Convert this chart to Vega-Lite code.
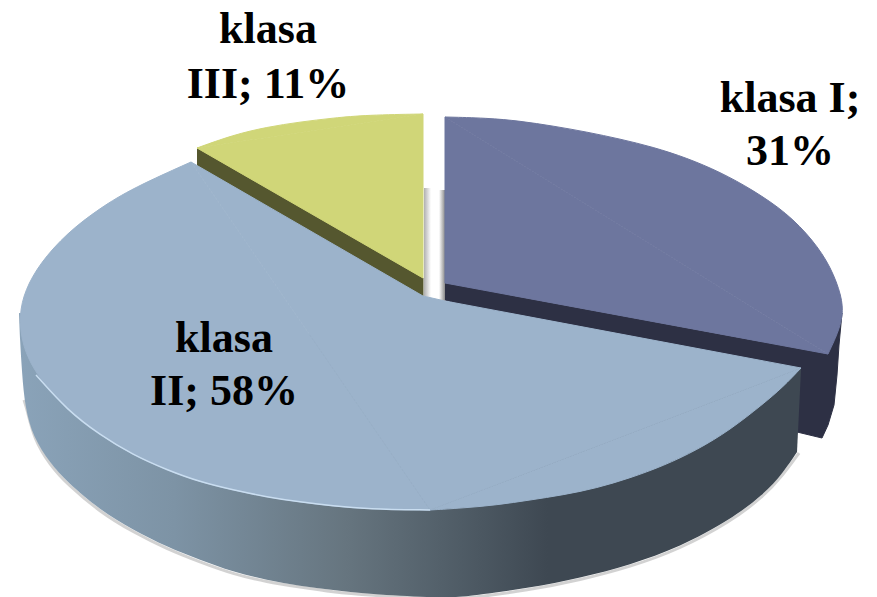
{"$schema":"https://vega.github.io/schema/vega-lite/v6.json","width":877,"height":597,"padding":0,"autosize":{"type":"none"},"background":"white","config":{"view":{"stroke":null}},
"datasets":{
"outline":[
{"p":"shadowA","i":0,"x":424,"y":188},{"p":"shadowA","i":1,"x":431,"y":188},{"p":"shadowA","i":2,"x":431,"y":298},{"p":"shadowA","i":3,"x":424,"y":296},
{"p":"shadowB","i":0,"x":439,"y":190},{"p":"shadowB","i":1,"x":445,"y":190},{"p":"shadowB","i":2,"x":445,"y":301},{"p":"shadowB","i":3,"x":439,"y":300},
{"p":"edge","i":0,"x":24,"y":400},{"p":"edge","i":2,"x":27,"y":409},{"p":"edge","i":3,"x":34,"y":439},{"p":"edge","i":4,"x":50,"y":465},{"p":"edge","i":5,"x":67,"y":484},{"p":"edge","i":6,"x":100,"y":512},{"p":"edge","i":7,"x":133,"y":532},{"p":"edge","i":8,"x":167,"y":549},{"p":"edge","i":9,"x":200,"y":562},{"p":"edge","i":10,"x":233,"y":574},{"p":"edge","i":11,"x":267,"y":582},{"p":"edge","i":12,"x":300,"y":587},{"p":"edge","i":13,"x":333,"y":592},{"p":"edge","i":14,"x":367,"y":595},{"p":"edge","i":15,"x":440,"y":599},{"p":"edge","i":16,"x":463,"y":599},{"p":"edge","i":17,"x":530,"y":590},{"p":"edge","i":18,"x":580,"y":580},{"p":"edge","i":19,"x":630,"y":567},{"p":"edge","i":20,"x":680,"y":549},{"p":"edge","i":21,"x":730,"y":522},{"p":"edge","i":22,"x":763,"y":497},{"p":"edge","i":23,"x":783,"y":475},{"p":"edge","i":24,"x":799,"y":453},
{"p":"Iside","i":0,"x":445,"y":283},{"p":"Iside","i":1,"x":828,"y":354},{"p":"Iside","i":2,"x":842,"y":313},{"p":"Iside","i":3,"x":839,"y":345},{"p":"Iside","i":4,"x":837,"y":375},{"p":"Iside","i":5,"x":834,"y":405},{"p":"Iside","i":6,"x":828,"y":425},{"p":"Iside","i":7,"x":822,"y":438},{"p":"Iside","i":8,"x":797,"y":432},{"p":"Iside","i":9,"x":797,"y":400},{"p":"Iside","i":10,"x":445,"y":300},
{"p":"Iarc","i":0,"x":445,"y":117},{"p":"Iarc","i":1,"x":487,"y":118},{"p":"Iarc","i":2,"x":520,"y":121},{"p":"Iarc","i":3,"x":553,"y":126},{"p":"Iarc","i":4,"x":587,"y":132},{"p":"Iarc","i":5,"x":620,"y":139},{"p":"Iarc","i":6,"x":653,"y":147},{"p":"Iarc","i":7,"x":687,"y":158},{"p":"Iarc","i":8,"x":720,"y":172},{"p":"Iarc","i":9,"x":753,"y":190},{"p":"Iarc","i":10,"x":787,"y":213},{"p":"Iarc","i":11,"x":813,"y":240},{"p":"Iarc","i":12,"x":831,"y":267},{"p":"Iarc","i":13,"x":842,"y":297},{"p":"Iarc","i":14,"x":843,"y":315},{"p":"Iarc","i":15,"x":838,"y":333},{"p":"Iarc","i":16,"x":828,"y":354},
{"p":"Icore","i":0,"x":445,"y":117},{"p":"Icore","i":1,"x":828,"y":354},{"p":"Icore","i":2,"x":445,"y":283},{"p":"Icore","i":3,"x":445,"y":117},
{"p":"IIIside","i":0,"x":197,"y":148},{"p":"IIIside","i":1,"x":423,"y":278},{"p":"IIIside","i":2,"x":423,"y":297},{"p":"IIIside","i":3,"x":197,"y":166},
{"p":"IIIarc","i":0,"x":197,"y":148},{"p":"IIIarc","i":1,"x":233,"y":135},{"p":"IIIarc","i":2,"x":267,"y":127},{"p":"IIIarc","i":3,"x":300,"y":122},{"p":"IIIarc","i":4,"x":333,"y":118},{"p":"IIIarc","i":5,"x":367,"y":115},{"p":"IIIarc","i":6,"x":423,"y":114},
{"p":"IIIcore","i":0,"x":197,"y":148},{"p":"IIIcore","i":1,"x":423,"y":114},{"p":"IIIcore","i":2,"x":423,"y":278},{"p":"IIIcore","i":3,"x":197,"y":148},
{"p":"IIsideArc","i":0,"x":19,"y":313},{"p":"IIsideArc","i":1,"x":20,"y":340},{"p":"IIsideArc","i":2,"x":22,"y":373},{"p":"IIsideArc","i":3,"x":25,"y":407},{"p":"IIsideArc","i":4,"x":33,"y":437},{"p":"IIsideArc","i":5,"x":50,"y":463},{"p":"IIsideArc","i":6,"x":67,"y":482},{"p":"IIsideArc","i":7,"x":100,"y":510},{"p":"IIsideArc","i":8,"x":133,"y":530},{"p":"IIsideArc","i":9,"x":167,"y":547},{"p":"IIsideArc","i":10,"x":200,"y":560},{"p":"IIsideArc","i":11,"x":233,"y":572},{"p":"IIsideArc","i":12,"x":267,"y":580},{"p":"IIsideArc","i":13,"x":300,"y":586},{"p":"IIsideArc","i":14,"x":333,"y":590},{"p":"IIsideArc","i":15,"x":367,"y":594},{"p":"IIsideArc","i":16,"x":440,"y":598},{"p":"IIsideArc","i":17,"x":463,"y":597},{"p":"IIsideArc","i":18,"x":530,"y":588},{"p":"IIsideArc","i":19,"x":580,"y":578},{"p":"IIsideArc","i":20,"x":630,"y":565},{"p":"IIsideArc","i":21,"x":680,"y":547},{"p":"IIsideArc","i":22,"x":730,"y":520},{"p":"IIsideArc","i":23,"x":763,"y":495},{"p":"IIsideArc","i":24,"x":783,"y":473},{"p":"IIsideArc","i":25,"x":797,"y":452},
{"p":"IIsideTri","i":0,"x":19,"y":313},{"p":"IIsideTri","i":1,"x":801,"y":369},{"p":"IIsideTri","i":2,"x":797,"y":452},{"p":"IIsideTri","i":3,"x":600,"y":480},
{"p":"IIarcA","i":0,"x":191,"y":162},{"p":"IIarcA","i":1,"x":133,"y":188},{"p":"IIarcA","i":2,"x":100,"y":208},{"p":"IIarcA","i":3,"x":67,"y":233},{"p":"IIarcA","i":4,"x":40,"y":263},{"p":"IIarcA","i":5,"x":25,"y":290},{"p":"IIarcA","i":6,"x":19,"y":315},{"p":"IIarcA","i":7,"x":22,"y":345},{"p":"IIarcA","i":8,"x":36,"y":375},{"p":"IIarcA","i":9,"x":67,"y":410},{"p":"IIarcA","i":10,"x":100,"y":435},{"p":"IIarcA","i":11,"x":133,"y":455},{"p":"IIarcA","i":12,"x":167,"y":470},{"p":"IIarcA","i":13,"x":200,"y":482},{"p":"IIarcA","i":14,"x":233,"y":490},{"p":"IIarcA","i":15,"x":267,"y":497},{"p":"IIarcA","i":16,"x":300,"y":502},{"p":"IIarcA","i":17,"x":333,"y":506},{"p":"IIarcA","i":18,"x":367,"y":509},{"p":"IIarcA","i":19,"x":430,"y":510},
{"p":"IIarcB","i":0,"x":430,"y":510},{"p":"IIarcB","i":1,"x":463,"y":508},{"p":"IIarcB","i":2,"x":497,"y":505},{"p":"IIarcB","i":3,"x":530,"y":500},{"p":"IIarcB","i":4,"x":563,"y":495},{"p":"IIarcB","i":5,"x":597,"y":488},{"p":"IIarcB","i":6,"x":630,"y":478},{"p":"IIarcB","i":7,"x":663,"y":466},{"p":"IIarcB","i":8,"x":697,"y":450},{"p":"IIarcB","i":9,"x":730,"y":430},{"p":"IIarcB","i":10,"x":763,"y":404},{"p":"IIarcB","i":11,"x":783,"y":387},{"p":"IIarcB","i":12,"x":801,"y":368},
{"p":"IIcore","i":0,"x":191,"y":162},{"p":"IIcore","i":1,"x":423,"y":296},{"p":"IIcore","i":2,"x":445,"y":301},{"p":"IIcore","i":3,"x":801,"y":368},{"p":"IIcore","i":4,"x":430,"y":510},{"p":"IIcore","i":5,"x":191,"y":162},
{"p":"rim","i":0,"x":36,"y":375},{"p":"rim","i":1,"x":67,"y":410},{"p":"rim","i":2,"x":100,"y":435},{"p":"rim","i":3,"x":133,"y":455},{"p":"rim","i":4,"x":167,"y":470},{"p":"rim","i":5,"x":200,"y":482},{"p":"rim","i":6,"x":233,"y":490},{"p":"rim","i":7,"x":267,"y":497},{"p":"rim","i":8,"x":300,"y":502},{"p":"rim","i":9,"x":333,"y":506},{"p":"rim","i":10,"x":367,"y":509},{"p":"rim","i":11,"x":430,"y":510}
],
"labels":[
{"t":"klasa","x":268,"y":43,"share":11},{"t":"III; 11%","x":268,"y":98,"share":11},
{"t":"klasa I;","x":790,"y":112,"share":31},{"t":"31%","x":790,"y":165,"share":31},
{"t":"klasa","x":224,"y":352,"share":58},{"t":"II; 58%","x":224,"y":405,"share":58}
]},
"encoding":{"x":{"field":"x","type":"quantitative","scale":{"domain":[0,877],"nice":false,"zero":false},"axis":null},"y":{"field":"y","type":"quantitative","scale":{"domain":[597,0],"nice":false,"zero":false},"axis":null}},
"layer":[
{"data":{"name":"outline"},"transform":[{"filter":"datum.p==='shadowA'"}],"mark":{"type":"line","strokeWidth":0,"fill":{"gradient":"linear","x1":0,"y1":0,"x2":1,"y2":0,"stops":[{"offset":0,"color":"#b0b0b0"},{"offset":1,"color":"#ffffff"}]}},"encoding":{"order":{"field":"i","type":"quantitative"}}},
{"data":{"name":"outline"},"transform":[{"filter":"datum.p==='shadowB'"}],"mark":{"type":"line","strokeWidth":0,"fill":{"gradient":"linear","x1":0,"y1":0,"x2":1,"y2":0,"stops":[{"offset":0,"color":"#ffffff"},{"offset":1,"color":"#8a8a8a"}]}},"encoding":{"order":{"field":"i","type":"quantitative"}}},
{"data":{"name":"outline"},"transform":[{"filter":"datum.p==='edge'"}],"mark":{"type":"line","stroke":"#b4b4b4","strokeWidth":3,"opacity":0.6,"interpolate":"basis"},"encoding":{"order":{"field":"i","type":"quantitative"}}},
{"data":{"name":"outline"},"transform":[{"filter":"datum.p==='Iside'"}],"mark":{"type":"line","stroke":"#2d3044","strokeWidth":1,"fill":"#2d3044"},"encoding":{"order":{"field":"i","type":"quantitative"}}},
{"data":{"name":"outline"},"transform":[{"filter":"datum.p==='Iarc'"}],"mark":{"type":"line","stroke":"#6d769e","strokeWidth":1,"fill":"#6d769e","interpolate":"basis"},"encoding":{"order":{"field":"i","type":"quantitative"}}},
{"data":{"name":"outline"},"transform":[{"filter":"datum.p==='Icore'"}],"mark":{"type":"line","stroke":"#6d769e","strokeWidth":1,"fill":"#6d769e"},"encoding":{"order":{"field":"i","type":"quantitative"}}},
{"data":{"name":"outline"},"transform":[{"filter":"datum.p==='IIIside'"}],"mark":{"type":"line","stroke":"#55572f","strokeWidth":1,"fill":"#55572f"},"encoding":{"order":{"field":"i","type":"quantitative"}}},
{"data":{"name":"outline"},"transform":[{"filter":"datum.p==='IIIarc'"}],"mark":{"type":"line","stroke":"#d0d678","strokeWidth":1,"fill":"#d0d678","interpolate":"basis"},"encoding":{"order":{"field":"i","type":"quantitative"}}},
{"data":{"name":"outline"},"transform":[{"filter":"datum.p==='IIIcore'"}],"mark":{"type":"line","stroke":"#d0d678","strokeWidth":1,"fill":"#d0d678"},"encoding":{"order":{"field":"i","type":"quantitative"}}},
{"data":{"name":"outline"},"transform":[{"filter":"datum.p==='IIsideArc'"}],"mark":{"type":"line","strokeWidth":0,"interpolate":"basis","fill":{"gradient":"linear","x1":0,"y1":0,"x2":1,"y2":0,"stops":[{"offset":0,"color":"#8aa3b9"},{"offset":0.2,"color":"#7d93a5"},{"offset":0.42,"color":"#66757f"},{"offset":0.55,"color":"#525f69"},{"offset":0.68,"color":"#3e4852"},{"offset":1,"color":"#3e4852"}]}},"encoding":{"order":{"field":"i","type":"quantitative"}}},
{"data":{"name":"outline"},"transform":[{"filter":"datum.p==='IIsideTri'"}],"mark":{"type":"line","strokeWidth":0,"fill":{"gradient":"linear","x1":0,"y1":0,"x2":1,"y2":0,"stops":[{"offset":0,"color":"#8aa3b9"},{"offset":0.2,"color":"#7d93a5"},{"offset":0.42,"color":"#66757f"},{"offset":0.55,"color":"#525f69"},{"offset":0.68,"color":"#3e4852"},{"offset":1,"color":"#3e4852"}]}},"encoding":{"order":{"field":"i","type":"quantitative"}}},
{"data":{"name":"outline"},"transform":[{"filter":"datum.p==='IIarcA'"}],"mark":{"type":"line","stroke":"#9cb3cb","strokeWidth":1,"fill":"#9cb3cb","interpolate":"basis"},"encoding":{"order":{"field":"i","type":"quantitative"}}},
{"data":{"name":"outline"},"transform":[{"filter":"datum.p==='IIarcB'"}],"mark":{"type":"line","stroke":"#9cb3cb","strokeWidth":1,"fill":"#9cb3cb","interpolate":"basis"},"encoding":{"order":{"field":"i","type":"quantitative"}}},
{"data":{"name":"outline"},"transform":[{"filter":"datum.p==='IIcore'"}],"mark":{"type":"line","stroke":"#9cb3cb","strokeWidth":1,"fill":"#9cb3cb"},"encoding":{"order":{"field":"i","type":"quantitative"}}},
{"data":{"name":"outline"},"transform":[{"filter":"datum.p==='rim'"}],"mark":{"type":"line","stroke":"#c9ddf0","strokeWidth":1.5,"interpolate":"basis"},"encoding":{"order":{"field":"i","type":"quantitative"}}},
{"data":{"name":"labels"},"mark":{"type":"text","font":"Liberation Serif","fontWeight":"bold","fontSize":44,"color":"#000000","align":"center","baseline":"alphabetic"},"encoding":{"text":{"field":"t","type":"nominal"}}}
]}
